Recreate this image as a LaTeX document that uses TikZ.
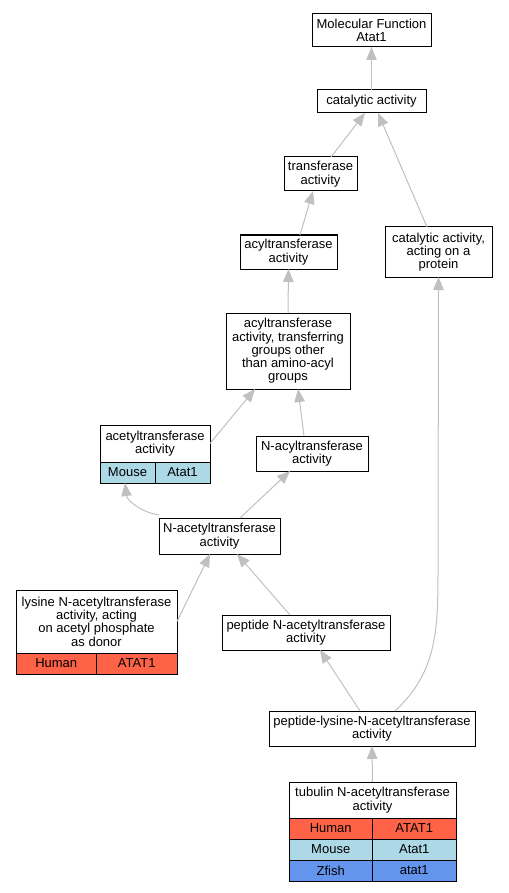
\documentclass[tikz,border=0pt]{standalone}
\usepackage{fontspec}
\setmainfont{Liberation Sans}
\usetikzlibrary{arrows.meta, positioning}

\definecolor{human}{HTML}{FF6347}
\definecolor{mouse}{HTML}{ADD8E6}
\definecolor{zfish}{HTML}{6495ED}
\definecolor{edgegray}{HTML}{C0C0C0}

\tikzset{
    term/.style={draw, line width=1pt, fill=white, align=center, inner sep=0pt, outer sep=0pt,
        font=\fontsize{13}{13.3}\selectfont},
    cell/.style={draw, line width=1pt, inner sep=0pt, outer sep=0pt, minimum height=21pt, anchor=north west,
        font=\fontsize{13}{13.3}\selectfont},
    isa/.style={draw=edgegray, line width=1pt,
        -{Triangle[length=13pt, width=10.5pt, fill=edgegray]}}
}

\begin{document}
\begin{tikzpicture}[x=1pt, y=-1pt]
    \useasboundingbox (0,0) rectangle (508,893);

    % GO terms
    \node[term, minimum width=119pt, minimum height=33pt] (mf) at (371.5,30.5) {Molecular Function\\Atat1};
    \node[term, minimum width=109pt, minimum height=23pt] (cat) at (371.5,101.5) {catalytic activity};
    \node[term, minimum width=73pt, minimum height=34pt] (trans) at (320.5,174) {transferase\\activity};
    \node[term, minimum width=107pt, minimum height=50pt] (prot) at (438.5,252) {catalytic activity,\\acting on a\\protein};
    \node[term, minimum width=97pt, minimum height=34pt] (acyl) at (288.5,252) {acyltransferase\\activity};
    \node[term, minimum width=124pt, minimum height=76pt] (other) at (288,351) {acyltransferase\\activity, transferring\\groups other\\than amino-acyl\\groups};
    \node[term, minimum width=110pt, minimum height=37pt] (acet) at (155,443.5) {acetyltransferase\\activity};
    \node[term, minimum width=112pt, minimum height=35pt] (nacyl) at (312,453.5) {N-acyltransferase\\activity};
    \node[term, minimum width=121pt, minimum height=36pt] (nacet) at (219.5,536) {N-acetyltransferase\\activity};
    \node[term, minimum width=161pt, minimum height=63pt] (lys) at (96.5,621.5) {lysine N-acetyltransferase\\activity, acting\\on acetyl phosphate\\as donor};
    \node[term, minimum width=168pt, minimum height=35pt] (pepn) at (306,632.5) {peptide N-acetyltransferase\\activity};
    \node[term, minimum width=206pt, minimum height=35pt] (peplys) at (372,728.5) {peptide-lysine-N-acetyltransferase\\activity};
    \node[term, minimum width=167pt, minimum height=36pt] (tub) at (372.5,800) {tubulin N-acetyltransferase\\activity};

    % gene rows
    \node[cell, fill=mouse, minimum width=55pt] (acetM) at (acet.south west) {Mouse};
    \node[cell, fill=mouse, minimum width=55pt] (acetMg) at (acetM.north east) {Atat1};
    \node[cell, fill=human, minimum width=80.5pt] (lysH) at (lys.south west) {Human};
    \node[cell, fill=human, minimum width=80.5pt] (lysHg) at (lysH.north east) {ATAT1};
    \node[cell, fill=human, minimum width=83.5pt] (tubH) at (tub.south west) {Human};
    \node[cell, fill=human, minimum width=83.5pt] (tubHg) at (tubH.north east) {ATAT1};
    \node[cell, fill=mouse, minimum width=83.5pt] (tubM) at (tubH.south west) {Mouse};
    \node[cell, fill=mouse, minimum width=83.5pt] (tubMg) at (tubM.north east) {Atat1};
    \node[cell, fill=zfish, minimum width=83.5pt] (tubZ) at (tubM.south west) {Zfish};
    \node[cell, fill=zfish, minimum width=83.5pt] (tubZg) at (tubZ.north east) {atat1};

    % is_a edges
    \draw[isa] (cat.north) -- (mf.south);
    \draw[isa] ([xshift=10.5pt]trans.north) -- ([xshift=-6.5pt]cat.south);
    \draw[isa] ([xshift=-11.5pt]prot.north) -- ([xshift=6.5pt]cat.south);
    \draw[isa] ([xshift=11.5pt]acyl.north) -- ([xshift=-7.5pt]trans.south);
    \draw[isa] (other.north) -- (acyl.south);
    \draw[isa] (acet.east) -- ([xshift=-33pt]other.south);
    \draw[isa] ([xshift=-8pt]nacyl.north) -- ([xshift=10pt]other.south);
    \draw[isa] ([yshift=3pt]nacet.north west) .. controls (140,512) and (127,500) .. ([xshift=-30pt]acetM.south east);
    \draw[isa] ([xshift=20.5pt]nacet.north) -- ([xshift=-22pt]nacyl.south);
    \draw[isa] (lys.east) -- ([xshift=-9.5pt]nacet.south);
    \draw[isa] ([xshift=-16pt]pepn.north) -- ([xshift=17.5pt]nacet.south);
    \draw[isa] ([xshift=-12pt]peplys.north) -- ([xshift=14pt]pepn.south);
    \draw[isa] ([xshift=23pt]peplys.north) .. controls (437,672) and (438,630) .. (438,570) -- (prot.south);
    \draw[isa] (tub.north) -- (peplys.south);
\end{tikzpicture}
\end{document}
